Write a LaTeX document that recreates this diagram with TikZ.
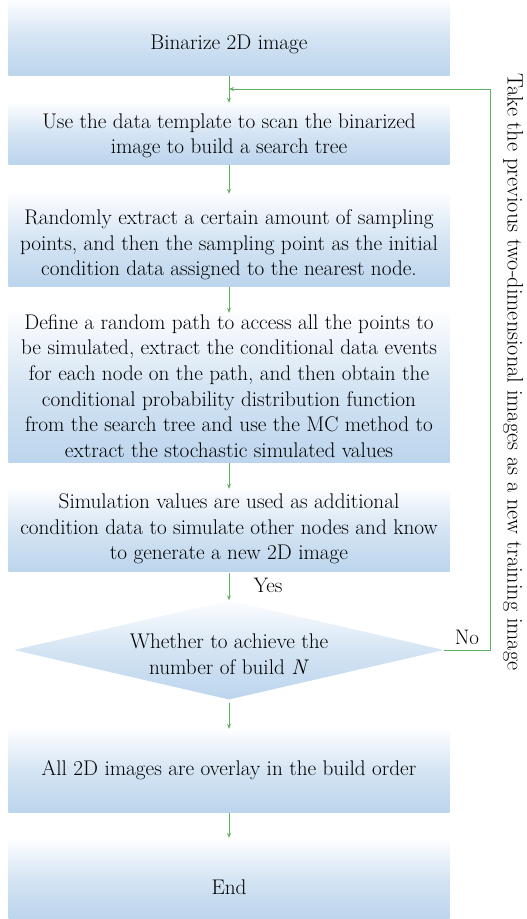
\documentclass[tikz,border=0pt]{standalone}
\usepackage{fontspec}
\usetikzlibrary{shapes.geometric,arrows.meta}
\definecolor{boxblue}{RGB}{188,213,237}
\definecolor{boxmid}{RGB}{212,228,243}
\definecolor{boxtop}{RGB}{252,253,255}
\definecolor{linegreen}{RGB}{95,178,100}
\tikzset{
  boxtext/.style={align=center, inner sep=0pt, font=\fontsize{21.2}{25.6}\selectfont},
  flowbox/.style={draw=none, top color=boxtop, bottom color=boxblue, middle color=boxmid,
    minimum width=441pt, inner sep=0pt},
  decbox/.style={diamond, draw=none, top color=boxtop, bottom color=boxblue, middle color=boxmid,
    minimum width=430pt, minimum height=99pt, inner sep=0pt},
  conn/.style={draw=linegreen, line width=0.9pt, -{Stealth[length=5pt,width=4pt]}},
  lbl/.style={font=\fontsize{21}{24}\selectfont, inner sep=0pt},
}
\begin{document}
\begin{tikzpicture}[x=1pt,y=-1pt]
\useasboundingbox (0,0) rectangle (527,919);
\node[flowbox, minimum height=75pt,
  label={[boxtext, name=t1, yshift=-7pt]center:Binarize 2D image}] (b1) at (229,37.5) {};
\node[flowbox, minimum height=61pt,
  label={[boxtext, name=t2, yshift=-2.5pt]center:{Use the data template to scan the binarized\\image to build a search tree}}] (b2) at (229,133.5) {};
\node[flowbox, minimum height=92pt,
  label={[boxtext, name=t3, yshift=-5pt]center:{Randomly extract a certain amount of sampling\\points, and then the sampling point as the initial\\condition data assigned to the nearest node.}}] (b3) at (229,240) {};
\node[flowbox, minimum height=149pt,
  label={[boxtext, name=t4, yshift=1.5pt]center:{Define a random path to access all the points to\\be simulated, extract the conditional data events\\for each node on the path, and then obtain the\\conditional probability distribution function\\from the search tree and use the MC method to\\extract the stochastic simulated values}}] (b4) at (229,387.5) {};
\node[flowbox, minimum height=82pt,
  label={[boxtext, name=t5, yshift=1pt]center:{Simulation values are used as additional\\condition data to simulate other nodes and know\\to generate a new 2D image}}] (b5) at (229,530) {};
\node[decbox,
  label={[boxtext, name=t6, yshift=-4.5pt]center:{Whether to achieve the\\number of build \textit{N}}}] (dec) at (229,650) {};
\node[flowbox, minimum height=82pt,
  label={[boxtext, name=t7, yshift=1pt]center:All 2D images are overlay in the build order}] (b6) at (229,771) {};
\node[flowbox, minimum height=79pt,
  label={[boxtext, name=t8, yshift=-7.5pt]center:End}] (b7) at (229,879.5) {};

\coordinate (join) at (229,89);
\draw[conn, shorten <=1pt] (b1.south) -- (b2.north);
\draw[conn, shorten <=1pt] (b2.south) -- (b3.north);
\draw[conn, shorten <=1pt] (b3.south) -- (b4.north);
\draw[conn, shorten <=1pt] (b4.south) -- (b5.north);
\draw[conn, shorten <=2pt] (b5.south) -- (dec.north);
\draw[conn, shorten <=3pt, shorten >=1pt] (dec.south) -- (b6.north);
\draw[conn, shorten <=1pt, shorten >=2pt] (b6.south) -- (b7.north);
\draw[conn] (dec.east) -- ++(46,0) |- (join);

\node[lbl] (yes) at (268,585) {Yes};
\node[lbl] (no) at (467,637) {No};
\node[lbl, rotate=-90, font=\fontsize{22.3}{24}\selectfont] (side) at (513,372) {Take the previous two-dimensional images as a new training image};
\end{tikzpicture}
\end{document}
